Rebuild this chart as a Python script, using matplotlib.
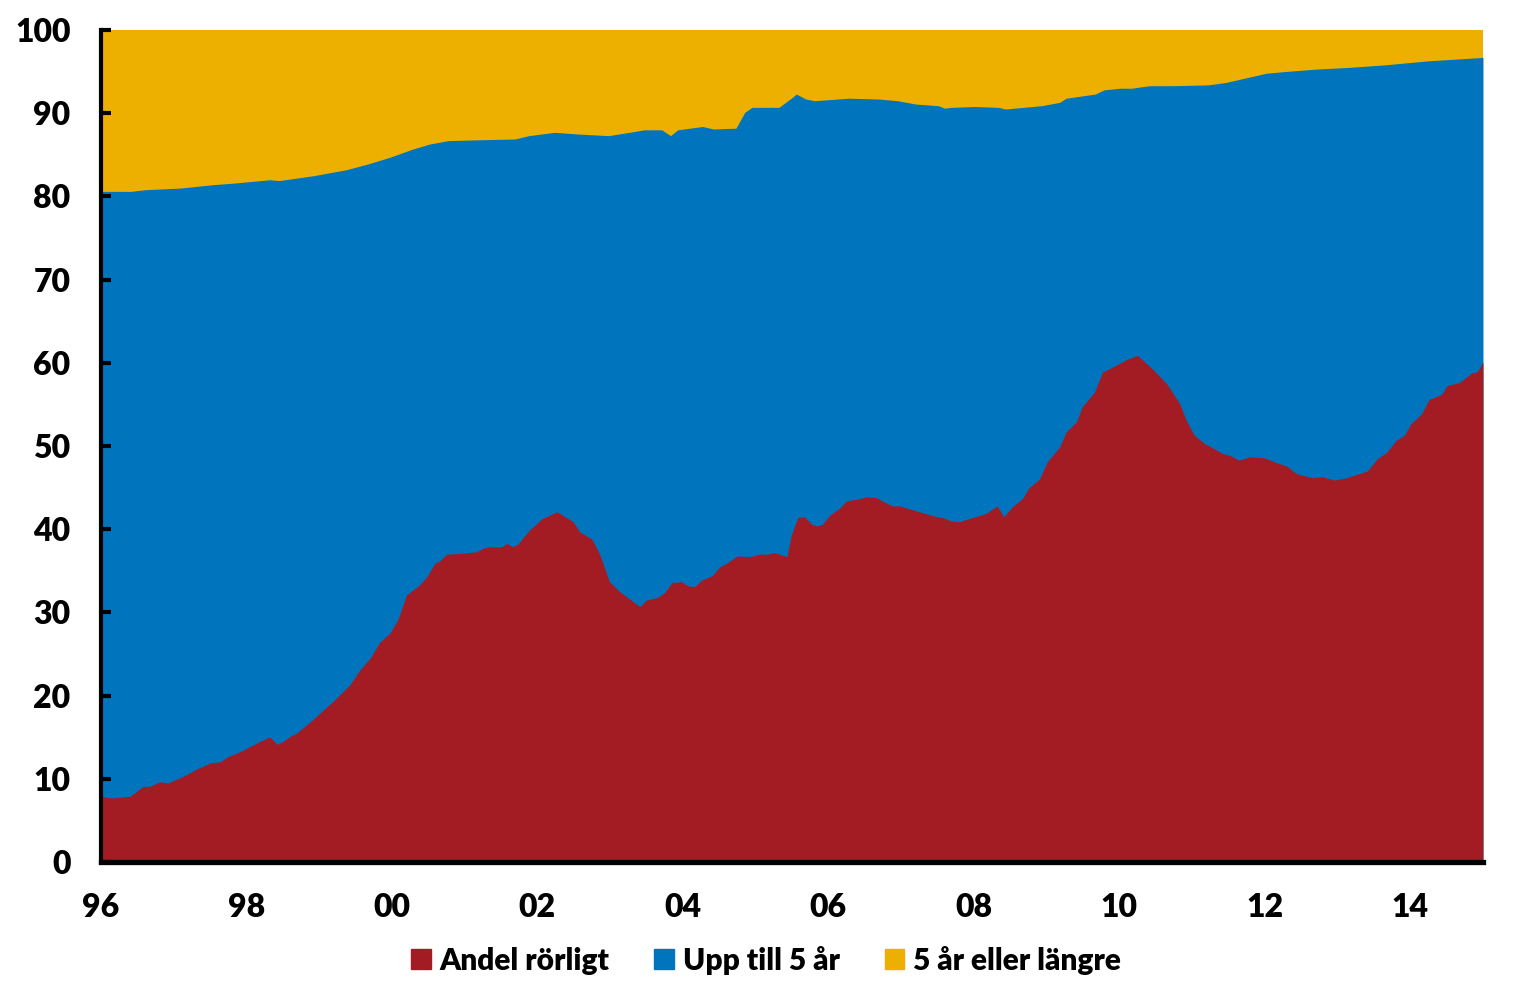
import matplotlib.pyplot as plt
from matplotlib.patches import Patch

# Andel rörligt (share, %)
rorligt_ar = [1996.0, 1996.16, 1996.40, 1996.58, 1996.67, 1996.81, 1996.92, 1997.13, 1997.32, 1997.50,
              1997.64, 1997.75, 1997.91, 1998.14, 1998.32, 1998.42, 1998.50, 1998.60, 1998.69, 1998.91,
              1999.11, 1999.19, 1999.42, 1999.56, 1999.70, 1999.83, 1999.97, 2000.08, 2000.20, 2000.38,
              2000.48, 2000.59, 2000.66, 2000.75, 2000.96, 2001.17, 2001.25, 2001.34, 2001.51, 2001.58,
              2001.66, 2001.73, 2001.89, 2002.07, 2002.27, 2002.49, 2002.58, 2002.75, 2002.86, 2002.99,
              2003.13, 2003.41, 2003.50, 2003.65, 2003.75, 2003.85, 2003.98, 2004.07, 2004.16, 2004.26,
              2004.40, 2004.51, 2004.60, 2004.75, 2004.92, 2005.05, 2005.16, 2005.26, 2005.43, 2005.49,
              2005.58, 2005.67, 2005.77, 2005.85, 2005.92, 2006.02, 2006.15, 2006.25, 2006.39, 2006.53,
              2006.66, 2006.74, 2006.88, 2006.98, 2007.21, 2007.49, 2007.57, 2007.69, 2007.80, 2007.98,
              2008.17, 2008.32, 2008.41, 2008.53, 2008.67, 2008.76, 2008.90, 2009.01, 2009.18, 2009.27,
              2009.41, 2009.49, 2009.66, 2009.77, 2009.91, 2010.10, 2010.25, 2010.45, 2010.65, 2010.83,
              2010.92, 2011.03, 2011.17, 2011.28, 2011.42, 2011.51, 2011.65, 2011.79, 2011.99, 2012.16,
              2012.30, 2012.43, 2012.65, 2012.79, 2012.96, 2013.13, 2013.41, 2013.55, 2013.67, 2013.81,
              2013.92, 2014.01, 2014.15, 2014.26, 2014.43, 2014.51, 2014.67, 2014.85, 2014.92, 2015.0]
rorligt = [7.85, 7.7, 7.9, 9.1, 9.1, 9.65, 9.5, 10.3, 11.2, 11.9,
           12.05, 12.7, 13.25, 14.3, 15.05, 14.15, 14.5, 15.1, 15.5, 17.1,
           18.7, 19.3, 21.3, 23.1, 24.5, 26.4, 27.5, 29.1, 32.1, 33.3,
           34.3, 35.9, 36.2, 37.0, 37.1, 37.3, 37.7, 37.9, 37.9, 38.3,
           37.9, 38.2, 39.9, 41.3, 42.1, 40.9, 39.7, 38.8, 36.9, 33.7,
           32.5, 30.7, 31.5, 31.8, 32.4, 33.6, 33.7, 33.2, 33.1, 33.9,
           34.4, 35.5, 35.9, 36.8, 36.7, 37.0, 37.0, 37.2, 36.7, 39.3,
           41.4, 41.5, 40.6, 40.4, 40.6, 41.7, 42.5, 43.4, 43.6, 43.9,
           43.8, 43.4, 42.8, 42.8, 42.2, 41.5, 41.4, 41.0, 40.9, 41.4,
           41.9, 42.8, 41.5, 42.7, 43.7, 45.0, 46.0, 48.1, 49.9, 51.7,
           52.9, 54.7, 56.5, 58.9, 59.5, 60.4, 60.9, 59.3, 57.5, 55.1,
           53.1, 51.3, 50.3, 49.8, 49.1, 48.9, 48.3, 48.7, 48.6, 48.0,
           47.6, 46.7, 46.2, 46.3, 45.9, 46.2, 47.0, 48.5, 49.2, 50.7,
           51.3, 52.7, 53.8, 55.6, 56.2, 57.3, 57.6, 58.8, 58.9, 60.1]

# Rörligt + upp till 5 år (cumulative level, %)
upp5_ar = [1996.0, 1996.41, 1996.60, 1997.09, 1997.53, 1997.83, 1998.32, 1998.45, 1998.93, 1999.37,
           1999.67, 1999.97, 2000.29, 2000.52, 2000.77, 2001.19, 2001.69, 2001.88, 2002.24, 2002.55,
           2002.98, 2003.47, 2003.71, 2003.83, 2003.93, 2004.27, 2004.42, 2004.73, 2004.85, 2004.95,
           2005.32, 2005.49, 2005.56, 2005.69, 2005.81, 2006.28, 2006.70, 2006.95, 2007.20, 2007.51,
           2007.60, 2007.69, 2008.01, 2008.34, 2008.43, 2008.93, 2009.18, 2009.27, 2009.67, 2009.79,
           2010.01, 2010.17, 2010.41, 2010.73, 2011.22, 2011.47, 2011.77, 2012.02, 2012.27, 2012.71,
           2013.15, 2013.64, 2014.26, 2015.0]
upp5_kum = [80.6, 80.6, 80.8, 81.0, 81.4, 81.6, 82.0, 81.9, 82.5, 83.2,
            83.9, 84.7, 85.7, 86.3, 86.7, 86.8, 86.9, 87.3, 87.7, 87.5,
            87.3, 88.0, 88.0, 87.3, 88.0, 88.4, 88.1, 88.2, 90.1, 90.7,
            90.7, 91.8, 92.3, 91.7, 91.5, 91.8, 91.7, 91.5, 91.1, 90.9,
            90.6, 90.7, 90.8, 90.7, 90.5, 90.9, 91.3, 91.8, 92.3, 92.8,
            93.0, 93.0, 93.3, 93.3, 93.4, 93.7, 94.3, 94.8, 95.0, 95.3,
            95.5, 95.8, 96.3, 96.7]

ticks = [1996, 1998, 2000, 2002, 2004, 2006, 2008, 2010, 2012, 2014]
tick_labels = ['96', '98', '00', '02', '04', '06', '08', '10', '12', '14']

red = '#A31C24'
blue = '#0075BD'
yellow = '#EEB000'

plt.rcParams['font.family'] = ['Lato', 'DejaVu Sans']
plt.rcParams['font.weight'] = 'heavy'

fig = plt.figure(figsize=(15.26, 9.96), dpi=100)
ax = fig.add_axes([0.0662, 0.1345, 0.9056, 0.8354])

# layered fills: 5 år eller längre fills up to 100
ax.fill_between([1996, 2015], 0, 100, color=yellow, linewidth=0)
ax.fill_between(upp5_ar, 0, upp5_kum, color=blue, linewidth=0)
ax.fill_between(rorligt_ar, 0, rorligt, color=red, linewidth=0)

ax.set_xlim(1996, 2015)
ax.set_ylim(0, 100)
ax.set_yticks(range(0, 101, 10))
ax.set_xticks(ticks)
ax.set_xticklabels(tick_labels)

for s in ['top', 'right']:
    ax.spines[s].set_visible(False)
ax.spines['left'].set_linewidth(3)
ax.spines['bottom'].set_linewidth(3.8)
ax.tick_params(axis='y', direction='in', length=7, width=3, pad=22, labelsize=23)
ax.tick_params(axis='x', length=0, pad=22, labelsize=23)
for lab in ax.get_xticklabels() + ax.get_yticklabels():
    lab.set_fontweight('heavy')

handles = [Patch(color=red, label='Andel rörligt'),
           Patch(color=blue, label='Upp till 5 år'),
           Patch(color=yellow, label='5 år eller längre')]
fig.legend(handles=handles, loc='center', bbox_to_anchor=(0.502, 0.036), ncol=3,
           frameon=False, prop={'weight': 'heavy', 'size': 21.5},
           handlelength=0.65, handleheight=0.65, handletextpad=0.3, columnspacing=1.5)

plt.savefig('out.png', dpi=100)
